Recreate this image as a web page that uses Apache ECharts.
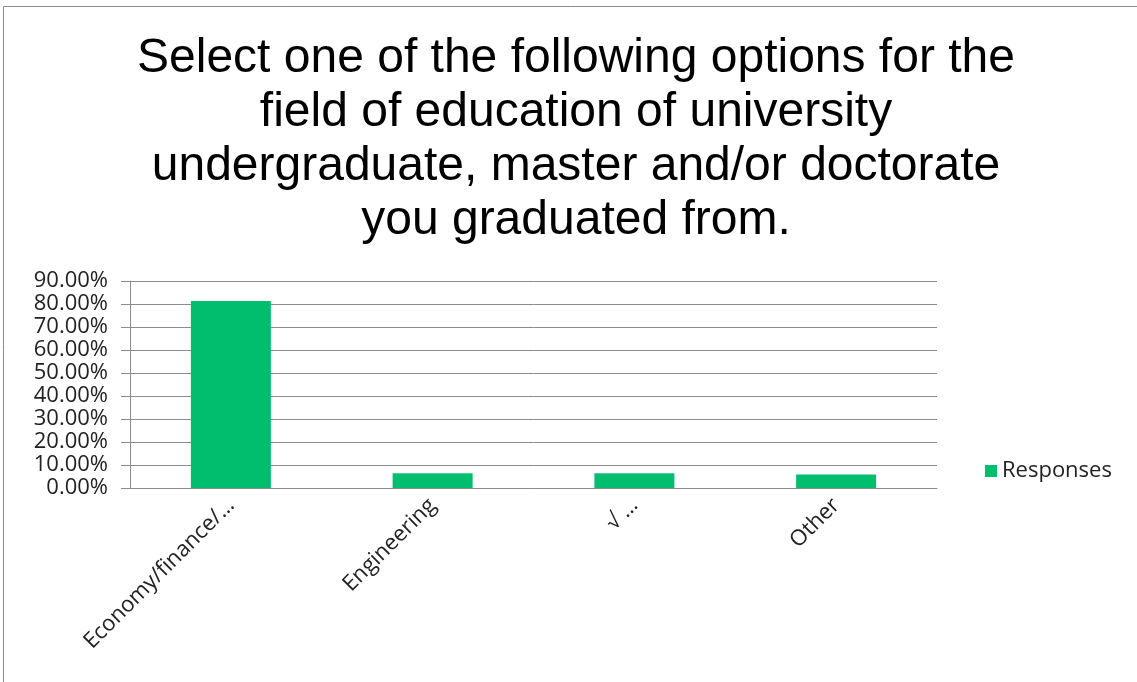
<!DOCTYPE html>
<html>
<head>
<meta charset="utf-8">
<script src="https://cdn.jsdelivr.net/npm/echarts@6/dist/echarts.min.js"></script>
<style>
  html, body { margin: 0; padding: 0; background: #fff; }
  #chart { width: 1137px; height: 682px; }
</style>
</head>
<body>
<div id="chart"></div>
<script>
// Survey results: field of education
const titleLines = [
  'Select one of the following options for the',
  'field of education of university',
  'undergraduate, master and/or doctorate',
  'you graduated from.'
];
const categories = ['Economy/finance/…', 'Engineering', '√ …', 'Other'];
const responses = [81.3, 6.4, 6.4, 5.9];
const seriesName = 'Responses';
const yMax = 90;
const yStep = 10;

const chart = echarts.init(document.getElementById('chart'));
chart.setOption({
  animation: false,
  backgroundColor: '#fff',
  graphic: [{
    type: 'rect',
    shape: { x: 3.5, y: 6.5, width: 1300, height: 900 },
    style: { fill: 'none', stroke: '#8c8c8c', lineWidth: 1 },
    silent: true
  }, {
    // chart heading, centred over the page
    type: 'text',
    x: 576,
    y: 32,
    silent: true,
    style: {
      text: titleLines.join('\n'),
      align: 'center',
      verticalAlign: 'top',
      fontFamily: 'Liberation Sans, Arial, sans-serif',
      fontSize: 48,
      lineHeight: 54,
      fill: '#000'
    }
  }],
  legend: {
    data: [seriesName],
    left: 980,
    top: 455,
    itemWidth: 12,
    itemHeight: 12,
    icon: 'rect',
    itemGap: 8,
    textStyle: { fontFamily: 'Open Sans, sans-serif', fontSize: 22, color: '#222' }
  },
  grid: { left: 130, right: 200, top: 281, height: 207 },
  xAxis: {
    type: 'category',
    data: categories,
    axisLine: { lineStyle: { color: '#8c8c8c' } },
    axisTick: { length: 8, lineStyle: { color: '#8c8c8c' } },
    axisLabel: {
      interval: 0,
      rotate: 45,
      margin: 14,
      fontFamily: 'Open Sans, sans-serif',
      fontSize: 22,
      color: '#222'
    }
  },
  yAxis: {
    type: 'value',
    min: 0,
    max: yMax,
    interval: yStep,
    axisLine: { show: true, lineStyle: { color: '#8c8c8c' } },
    axisTick: { show: true, length: 9, lineStyle: { color: '#8c8c8c' } },
    splitLine: { lineStyle: { color: '#8c8c8c' } },
    axisLabel: {
      formatter: v => v.toFixed(2) + '%',
      margin: 22,
      fontFamily: 'Open Sans, sans-serif',
      fontSize: 22,
      color: '#222'
    }
  },
  series: [{
    name: seriesName,
    type: 'bar',
    data: responses,
    barWidth: 80,
    itemStyle: { color: '#00BE6E' }
  }]
});
</script>
</body>
</html>
